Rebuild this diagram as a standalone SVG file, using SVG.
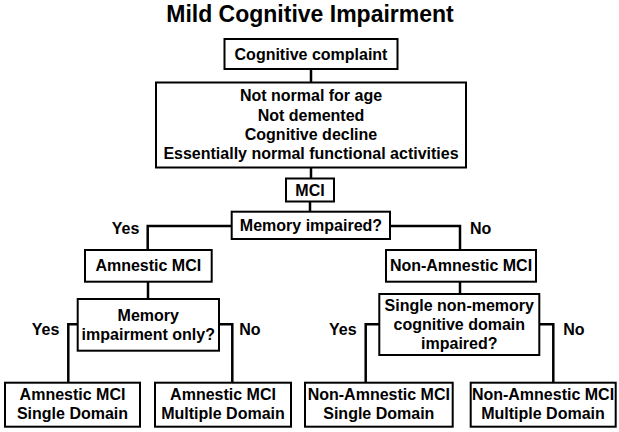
<svg xmlns="http://www.w3.org/2000/svg" width="619" height="432" viewBox="0 0 619 432">
<style>
  text { font-family: "Liberation Sans", Arial, sans-serif; font-weight: bold; font-size: 16px; fill: #000; }
  .c { text-anchor: middle; }
  .title { font-size: 23px; text-anchor: middle; }
  rect { fill: #fff; stroke: #000; stroke-width: 2; }
  #connectors path { fill: none; stroke: #000; stroke-width: 2.5; stroke-linejoin: miter; }
</style>
<rect x="0" y="0" width="619" height="432" style="stroke:none"/>
<text class="title" x="310" y="21.7">Mild Cognitive Impairment</text>

<g id="connectors">
  <path d="M311,69 V82.5"/>
  <path d="M311,167.5 V178.5"/>
  <path d="M310,201.5 V211.7"/>
  <path d="M231.7,226 H147.7 V250"/>
  <path d="M390,226 H460 V250"/>
  <path d="M148,281.7 V299"/>
  <path d="M460,281.7 V294"/>
  <path d="M77.7,324.3 H68.3 V382.7"/>
  <path d="M219,324.3 H232.3 V382.7"/>
  <path d="M379.3,324.3 H365.7 V382.7"/>
  <path d="M539.3,324.3 H553.3 V382.7"/>
</g>

<g id="labels">
  <text x="111.7" y="234">Yes</text>
  <text x="470" y="234">No</text>
  <text x="31.7" y="335">Yes</text>
  <text x="239.3" y="335">No</text>
  <text x="329" y="335">Yes</text>
  <text x="563.3" y="335">No</text>
</g>

<g id="n1">
  <rect x="224.5" y="39" width="173" height="30"/>
  <text class="c" x="311" y="60">Cognitive complaint</text>
</g>
<g id="n2">
  <rect x="156" y="82.5" width="310" height="85"/>
  <text class="c" x="311" y="101">Not normal for age</text>
  <text class="c" x="311" y="120.5">Not demented</text>
  <text class="c" x="311" y="140">Cognitive decline</text>
  <text class="c" x="311" y="159">Essentially normal functional activities</text>
</g>
<g id="n3">
  <rect x="286" y="178.5" width="48" height="23"/>
  <text class="c" x="310" y="196">MCI</text>
</g>
<g id="n4">
  <rect x="231.7" y="211.7" width="158.3" height="27.3"/>
  <text class="c" x="311" y="231">Memory impaired?</text>
</g>
<g id="n5">
  <rect x="85" y="250" width="126.7" height="31.7"/>
  <text class="c" x="148.3" y="271">Amnestic MCI</text>
</g>
<g id="n6">
  <rect x="386" y="250" width="150" height="31.7"/>
  <text class="c" x="461" y="271">Non-Amnestic MCI</text>
</g>
<g id="n7">
  <rect x="77.7" y="299" width="141.3" height="51.7"/>
  <text class="c" x="148.3" y="320.5">Memory</text>
  <text class="c" x="148.3" y="340">impairment only?</text>
</g>
<g id="n8">
  <rect x="379.3" y="294" width="160" height="61"/>
  <text class="c" x="459.3" y="310.5">Single non-memory</text>
  <text class="c" x="459.3" y="330">cognitive domain</text>
  <text class="c" x="459.3" y="349">impaired?</text>
</g>
<g id="n9">
  <rect x="5" y="382.7" width="135" height="44"/>
  <text class="c" x="72.5" y="400">Amnestic MCI</text>
  <text class="c" x="72.5" y="419">Single Domain</text>
</g>
<g id="n10">
  <rect x="155" y="382.7" width="136" height="44"/>
  <text class="c" x="223" y="400">Amnestic MCI</text>
  <text class="c" x="223" y="419">Multiple Domain</text>
</g>
<g id="n11">
  <rect x="305" y="382.7" width="147.7" height="44"/>
  <text class="c" x="378.8" y="400">Non-Amnestic MCI</text>
  <text class="c" x="378.8" y="419">Single Domain</text>
</g>
<g id="n12">
  <rect x="470.7" y="382.7" width="145" height="44"/>
  <text class="c" x="543" y="400">Non-Amnestic MCI</text>
  <text class="c" x="543" y="419">Multiple Domain</text>
</g>
</svg>
